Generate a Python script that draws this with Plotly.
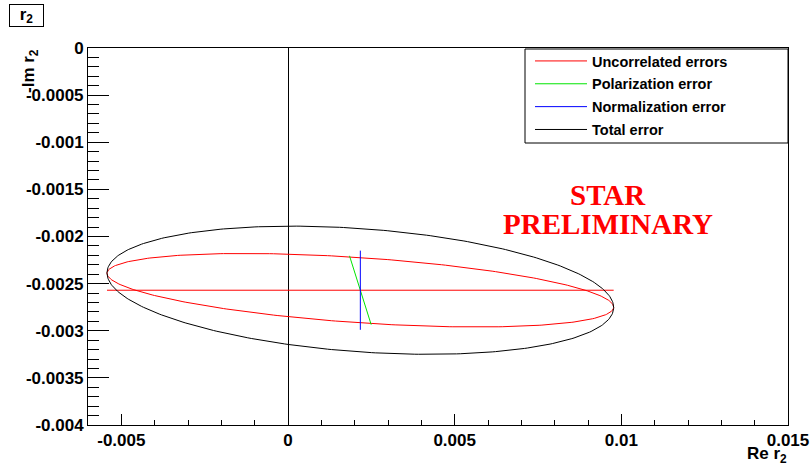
import numpy as np
import plotly.graph_objects as go

# ---- data ----
center_re = 0.00217
center_im = -0.00257

# uncorrelated error ellipse: sigma_re, sigma_im, correlation
uncorr_sigma = [0.0076, 0.00039]
uncorr_rho = -0.46

# polarization error: half-extent of the correlated shift (d_re, d_im)
pol_delta = [0.000325, -0.000365]

# normalization error: half-extent of the shift (d_re, d_im)
norm_delta = [0.0, 0.00042]

# total error ellipse
total_sigma = [0.0076, 0.00068]
total_rho = -0.27

x_tickvals = [-0.005, 0.0, 0.005, 0.01, 0.015]
x_ticktext = ["-0.005", "0", "0.005", "0.01", "0.015"]
y_tickvals = [-0.004, -0.0035, -0.003, -0.0025, -0.002, -0.0015, -0.001, -0.0005, 0.0]
y_ticktext = ["-0.004", "-0.0035", "-0.003", "-0.0025", "-0.002", "-0.0015", "-0.001", "-0.0005", "0"]

legend_names = ["Uncorrelated errors", "Polarization error", "Normalization error", "Total error"]
colors = ["#ff0000", "#00e600", "#0000ff", "#000000"]


def ellipse(cx, cy, sig, rho, n=400):
    t = np.linspace(0, 2 * np.pi, n)
    x = cx + sig[0] * np.cos(t)
    y = cy + sig[1] * (rho * np.cos(t) + np.sqrt(1 - rho ** 2) * np.sin(t))
    return x, y


FONT = "Liberation Sans, Arial, sans-serif"

fig = go.Figure()

ux, uy = ellipse(center_re, center_im, uncorr_sigma, uncorr_rho)
fig.add_trace(go.Scatter(x=ux, y=uy, mode="lines", name=legend_names[0],
                         legendgroup="a", line=dict(color=colors[0], width=1)))
fig.add_trace(go.Scatter(x=[center_re - uncorr_sigma[0], center_re + uncorr_sigma[0]],
                         y=[center_im, center_im], mode="lines", showlegend=False,
                         legendgroup="a", line=dict(color=colors[0], width=1)))
fig.add_trace(go.Scatter(x=[center_re - pol_delta[0], center_re + pol_delta[0]],
                         y=[center_im - pol_delta[1], center_im + pol_delta[1]],
                         mode="lines", name=legend_names[1], legendgroup="b",
                         line=dict(color=colors[1], width=1)))
fig.add_trace(go.Scatter(x=[center_re - norm_delta[0], center_re + norm_delta[0]],
                         y=[center_im - norm_delta[1], center_im + norm_delta[1]],
                         mode="lines", name=legend_names[2], legendgroup="c",
                         line=dict(color=colors[2], width=1)))
tx, ty = ellipse(center_re, center_im, total_sigma, total_rho)
fig.add_trace(go.Scatter(x=tx, y=ty, mode="lines", name=legend_names[3],
                         legendgroup="d", line=dict(color=colors[3], width=1)))

FW, FH = 811, 466
# plot area in pixels: x 88..788, y 48..425
L, R, T, B = 88, 788, 48, 425
W, H = R - L, B - T


def px(xp):
    return (xp - L) / W


def py(yp):
    return (B - yp) / H


tickfont = dict(family=FONT, size=17, color="black", weight="bold")

fig.update_layout(
    width=FW, height=FH,
    margin=dict(l=L, r=FW - R, t=T, b=FH - B, autoexpand=False),
    paper_bgcolor="white", plot_bgcolor="white",
    showlegend=True,
    legend=dict(x=px(530), y=py(45), xanchor="left", yanchor="top",
                bgcolor="rgba(0,0,0,0)", borderwidth=0,
                font=dict(family=FONT, size=14.5, color="black", weight="bold"),
                itemwidth=52, tracegroupgap=1, traceorder="grouped"),
    xaxis=dict(range=[-0.006, 0.015], tickvals=x_tickvals, ticktext=x_ticktext,
               automargin=False,
               ticks="inside", ticklen=11, tickcolor="black", tickwidth=1,
               minor=dict(dtick=0.001, ticks="inside", ticklen=5, tickcolor="black", tickwidth=1),
               showline=True, linecolor="black", linewidth=1, mirror=True,
               showgrid=False, zeroline=True, zerolinecolor="black", zerolinewidth=1,
               tickfont=tickfont),
    yaxis=dict(range=[-0.004, 0.0], tickvals=y_tickvals, ticktext=y_ticktext,
               automargin=False,
               ticks="inside", ticklen=21, tickcolor="black", tickwidth=1,
               minor=dict(dtick=0.0001, ticks="inside", ticklen=11, tickcolor="black", tickwidth=1),
               showline=True, linecolor="black", linewidth=1, mirror=True,
               showgrid=False, zeroline=False,
               tickfont=tickfont),
    shapes=[dict(type="rect", xref="paper", yref="paper",
                 x0=px(525), x1=px(788), y0=py(143), y1=py(49),
                 line=dict(color="black", width=1), fillcolor="rgba(0,0,0,0)")],
    annotations=[
        dict(text="r<sub>2</sub>", xref="paper", yref="paper", x=px(9), y=py(4),
             xanchor="left", yanchor="top", showarrow=False, width=33, height=21,
             bordercolor="black", borderwidth=1, borderpad=0,
             font=dict(family=FONT, size=17, color="black", weight="bold")),
        dict(text="Re r<sub>2</sub>", xref="paper", yref="paper", x=px(789), y=py(442),
             xanchor="right", yanchor="top", showarrow=False,
             font=dict(family=FONT, size=17, color="black", weight="bold")),
        dict(text="-Im r<sub>2</sub>", xref="paper", yref="paper", x=px(30), y=py(47),
             xanchor="center", yanchor="top", showarrow=False, textangle=-90,
             font=dict(family=FONT, size=17, color="black", weight="bold")),
        dict(text="STAR", xref="paper", yref="paper", x=px(608), y=py(195),
             xanchor="center", yanchor="middle", showarrow=False, height=27,
             font=dict(family="Liberation Serif, Times New Roman, serif", size=29,
                       color="#ff0000", weight="bold")),
        dict(text="PRELIMINARY", xref="paper", yref="paper", x=px(608), y=py(223),
             xanchor="center", yanchor="middle", showarrow=False, height=27,
             font=dict(family="Liberation Serif, Times New Roman, serif", size=29,
                       color="#ff0000", weight="bold")),
    ],
)

fig.write_html("out.html", config={"displayModeBar": False},
               post_script="document.body.style.margin='0';document.body.style.overflow='hidden';")
